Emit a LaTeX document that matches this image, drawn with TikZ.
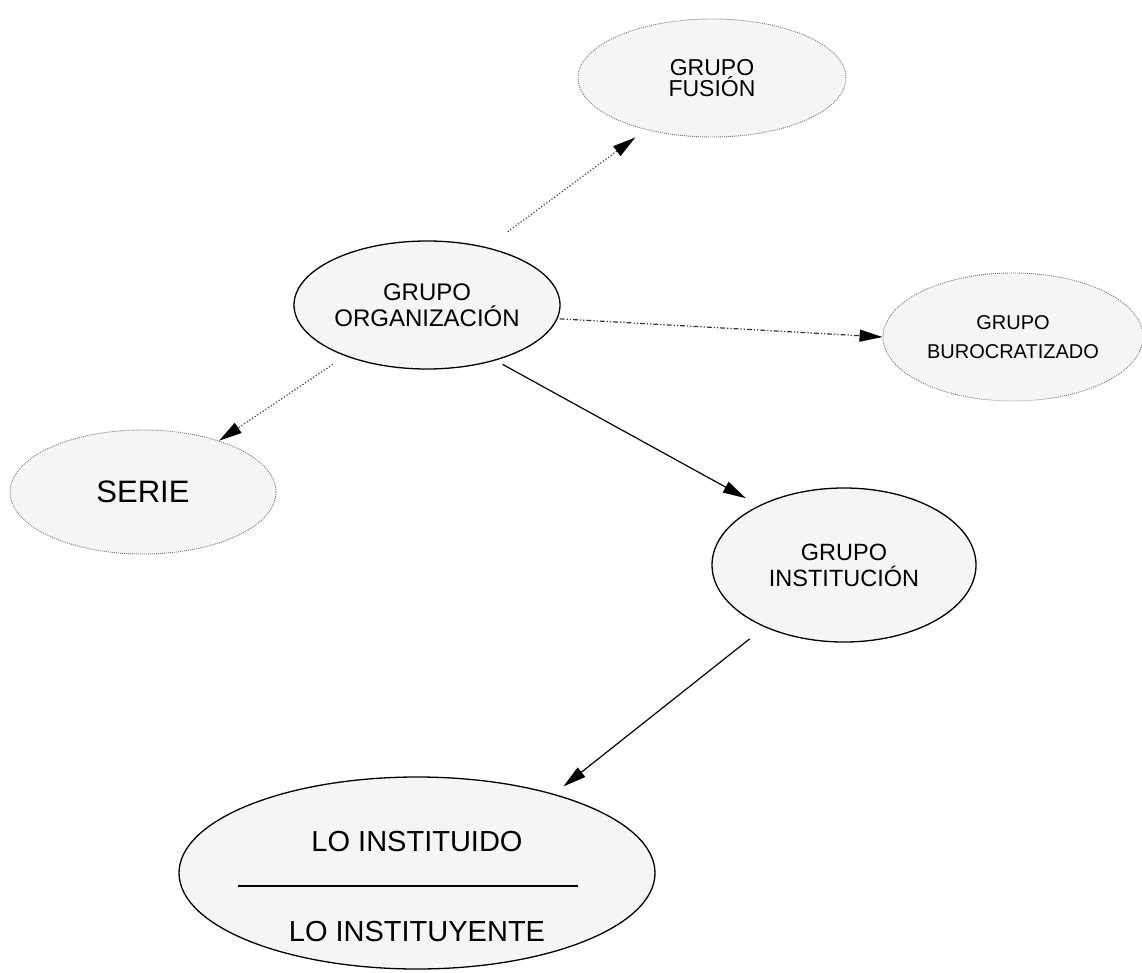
\documentclass[tikz,border=0pt]{standalone}
\usepackage{fontspec}
\setmainfont{Liberation Sans}
\usetikzlibrary{arrows.meta,shapes.geometric}
\begin{document}
\begin{tikzpicture}[x=1pt,y=-1pt,
  ell/.style={ellipse, inner sep=0pt, align=center, fill=black!4},
  solidell/.style={ell, draw=black, line width=1.3pt},
  dotell/.style={ell, draw=black!55, line width=0.9pt, dash pattern=on 0.9pt off 1.1pt},
  arr/.style={-{Triangle[length=23pt,width=12pt,color=black]}, line width=1.2pt},
  dotarr/.style={arr, draw=black!75, dash pattern=on 1.2pt off 2pt},
  dasharr/.style={arr, draw=black!80, dash pattern=on 5pt off 2pt on 1.2pt off 2pt on 1.2pt off 2pt},
  solarr/.style={arr, draw=black}
]
\useasboundingbox (0,0) rectangle (1142,973);

\node[dotell, minimum width=268pt, minimum height=118pt, font=\fontsize{23}{15}\selectfont] (fus) at (712,78) {GRUPO\\FUSIÓN};
\node[solidell, minimum width=266pt, minimum height=128pt, font=\fontsize{24}{26}\selectfont] (org) at (427,305) {GRUPO\\ORGANIZACIÓN};
\node[dotell, minimum width=260pt, minimum height=128pt, font=\fontsize{20}{29}\selectfont] (bur) at (1013,337) {GRUPO\\BUROCRATIZADO};
\node[dotell, minimum width=266pt, minimum height=124pt, font=\fontsize{31}{36}\selectfont] (ser) at (143,492) {SERIE};
\node[solidell, minimum width=264pt, minimum height=154pt, font=\fontsize{23.5}{26}\selectfont] (ins) at (844,565) {GRUPO\\INSTITUCIÓN};
\node[solidell, minimum width=476pt, minimum height=192pt] (lo) at (417,873) {};
\node[font=\fontsize{29}{34}\selectfont] (lo1) at (417,842) {LO INSTITUIDO};
\node[font=\fontsize{29}{34}\selectfont] (lo2) at (417,932) {LO INSTITUYENTE};
\draw[line width=1.5pt] ([shift={(-179,13)}]lo.center) -- ([shift={(161,13)}]lo.center);

\draw[dotarr, shorten <=26pt, shorten >=13pt] (org.44) -- (fus.218);
\draw[dasharr, shorten <=2pt] (org.-6) -- (bur.180);
\draw[dotarr, shorten <=15pt] (org.212) -- (ser.34);
\draw[solarr, shorten <=8pt, shorten >=15pt] (org.-39) -- (ins.145);
\draw[solarr, shorten <=19pt, shorten >=12pt] (ins.218) -- (lo.30);
\end{tikzpicture}
\end{document}
